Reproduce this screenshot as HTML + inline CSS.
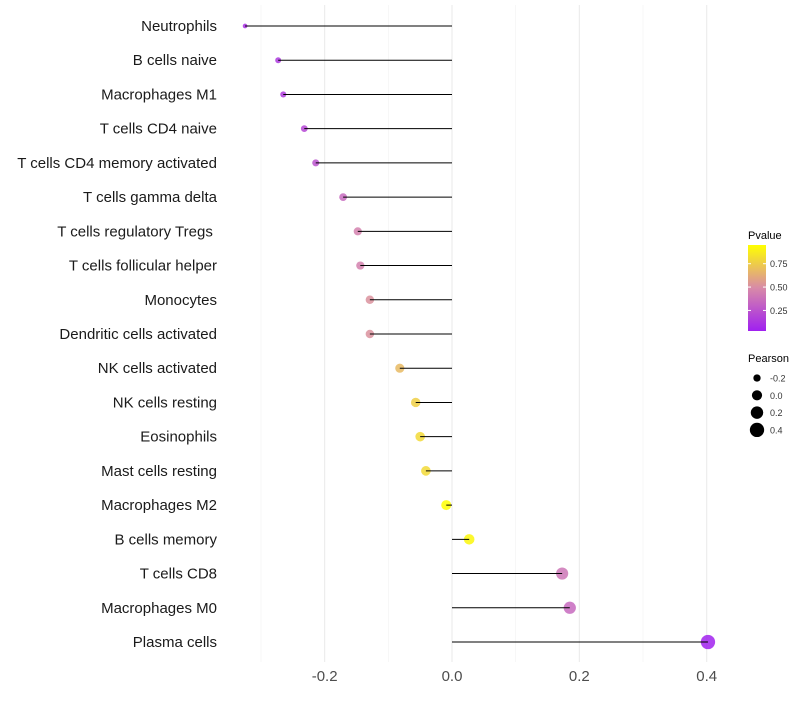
<!DOCTYPE html>
<html><head><meta charset="utf-8"><style>
body{margin:0;background:#fff;font-family:"Liberation Sans",sans-serif}
</style></head><body>
<svg id="c" width="800" height="700" xmlns="http://www.w3.org/2000/svg"></svg>
<script>
const categories=["Neutrophils","B cells naive","Macrophages M1","T cells CD4 naive","T cells CD4 memory activated","T cells gamma delta","T cells regulatory  Tregs\u00a0","T cells follicular helper","Monocytes","Dendritic cells activated","NK cells activated","NK cells resting","Eosinophils","Mast cells resting","Macrophages M2","B cells memory","T cells CD8","Macrophages M0","Plasma cells"];
const pearson=[-0.325,-0.273,-0.265,-0.232,-0.214,-0.171,-0.148,-0.144,-0.129,-0.129,-0.082,-0.057,-0.050,-0.041,-0.009,0.027,0.173,0.185,0.402];
const pvalue=[0.10,0.14,0.15,0.20,0.25,0.35,0.45,0.45,0.52,0.52,0.68,0.76,0.80,0.80,0.95,0.92,0.40,0.35,0.04];
const xTicks=[-0.2,0.0,0.2,0.4];
const pTicks=[0.25,0.50,0.75];
const sizeTicks=[-0.2,0.0,0.2,0.4];

const svg=document.getElementById('c');
const NS="http://www.w3.org/2000/svg";
const x=v=>452+v*636.7;
const y=i=>26+i*(616/18);
const r=v=>Math.sqrt(Math.max(3,26+63*v));
const pMin=0.03,pMax=0.95;
function lerp(a,b,t){return a.map((c,i)=>Math.round(c+(b[i]-c)*t));}
function col(p){let t=(p-pMin)/(pMax-pMin);t=Math.max(0,Math.min(1,t));
 const A=[160,32,240],M=[216,138,168],B=[255,255,0];
 const c=t<0.5?lerp(A,M,t*2):lerp(M,B,(t-0.5)*2);return `rgb(${c})`;}
function el(tag,attrs,name,txt){const e=document.createElementNS(NS,tag);for(const k in attrs)e.setAttribute(k,attrs[k]);
 
 
 if(txt!==undefined)e.textContent=txt;svg.appendChild(e);return e;}
// grid
[-0.3,-0.1,0.1,0.3].forEach(v=>el('line',{x1:x(v),x2:x(v),y1:5,y2:662,stroke:'#f2f2f2','stroke-width':0.6},'minor-gridline'));
xTicks.forEach(v=>el('line',{x1:x(v),x2:x(v),y1:5,y2:662,stroke:'#ebebeb','stroke-width':1.1},'major-gridline'));
// marks
categories.forEach((c,i)=>{
 el('circle',{cx:x(pearson[i]),cy:y(i),r:r(pearson[i]),fill:col(pvalue[i]),'fill-opacity':0.85},'point-'+i);
 el('line',{x1:x(0),x2:x(pearson[i]),y1:y(i),y2:y(i),stroke:'#000','stroke-width':1},'segment-'+i);
 el('text',{x:217,y:y(i)+5,'text-anchor':'end','font-size':15,fill:'#1a1a1a'},'y-label-'+i,c);
});
xTicks.forEach(v=>el('text',{x:x(v),y:681,'text-anchor':'middle','font-size':15,fill:'#4d4d4d'},'x-tick-label',v.toFixed(1)));
// color legend
const defs=el('defs',{},'defs');
const g=document.createElementNS(NS,'linearGradient');g.setAttribute('id','gr');g.setAttribute('x1','0');g.setAttribute('y1','1');g.setAttribute('x2','0');g.setAttribute('y2','0');
for(let k=0;k<=10;k++){const s=document.createElementNS(NS,'stop');s.setAttribute('offset',k/10);s.setAttribute('stop-color',col(pMin+(pMax-pMin)*k/10));g.appendChild(s);}
defs.appendChild(g);
el('text',{x:748,y:239,'font-size':11,fill:'#000'},'pvalue-legend-title','Pvalue');
el('rect',{x:748,y:245,width:18,height:86,fill:'url(#gr)'},'pvalue-colorbar');
const py=p=>331-(p-pMin)/(pMax-pMin)*86;
pTicks.forEach(p=>{
 el('line',{x1:748,x2:751,y1:py(p),y2:py(p),stroke:'#fff'},'colorbar-tick');
 el('line',{x1:763,x2:766,y1:py(p),y2:py(p),stroke:'#fff'},'colorbar-tick');
 el('text',{x:770,y:py(p)+3.5,'font-size':9,fill:'#333'},'pvalue-tick-label',p.toFixed(2));
});
el('text',{x:748,y:362,'font-size':11,fill:'#000'},'pearson-legend-title','Pearson');
sizeTicks.forEach((v,k)=>{
 const yy=378+k*17.3;
 el('circle',{cx:757,cy:yy,r:r(v),fill:'#000'},'size-legend-key');
 el('text',{x:770,y:yy+3.5,'font-size':9,fill:'#333'},'size-legend-label',v.toFixed(1));
});
</script>
</body></html>
